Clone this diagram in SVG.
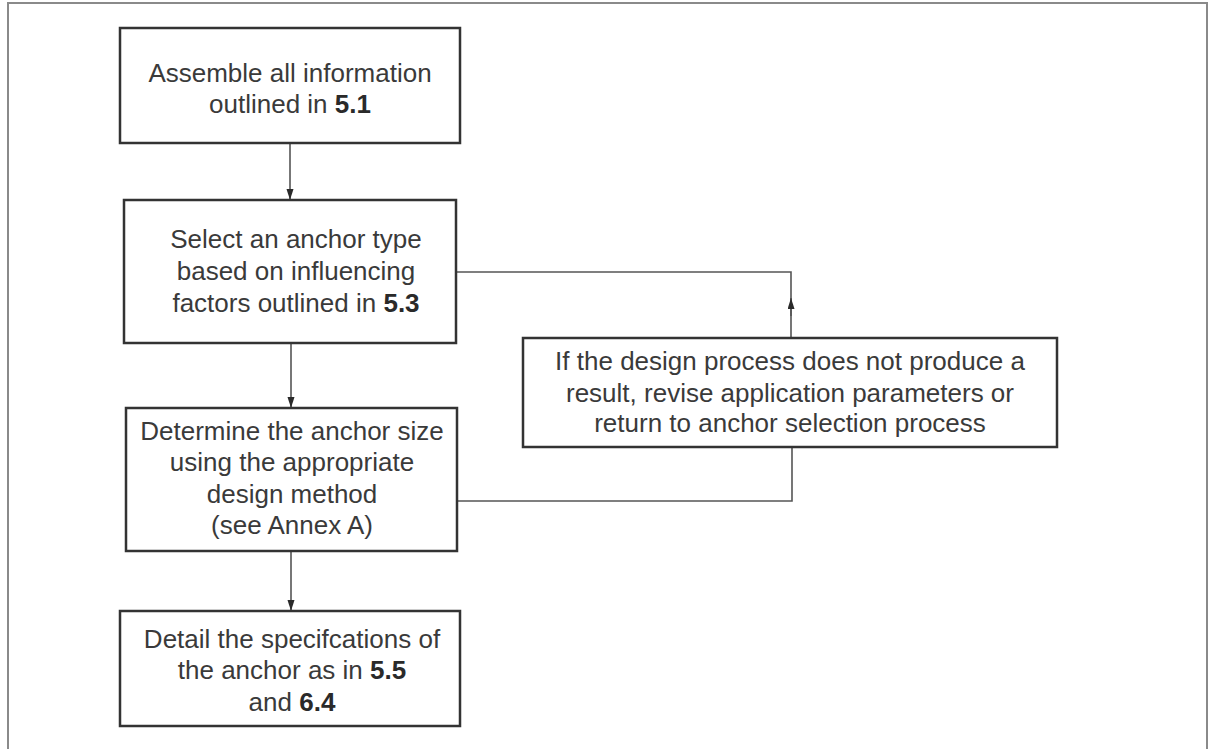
<svg xmlns="http://www.w3.org/2000/svg" width="1211" height="749" viewBox="0 0 1211 749">
  <style>
    .box { fill: #ffffff; stroke: #333333; stroke-width: 2.5; }
    .t { font-family: "Liberation Sans", Arial, sans-serif; font-size: 26px; fill: #3a3a3a; text-anchor: middle; }
    .b { font-weight: bold; fill: #2a2a2a; }
    .conn { fill: none; stroke: #555555; stroke-width: 1.6; }
  </style>
  <defs>
    <marker id="arrow" markerWidth="12" markerHeight="10" refX="11" refY="3.5" orient="auto" markerUnits="userSpaceOnUse">
      <path d="M0,0 L11,3.5 L0,7 Z" fill="#2a2a2a"/>
    </marker>
  </defs>
  <rect x="0" y="0" width="1211" height="749" fill="#ffffff"/>
  <rect x="8" y="3" width="1199" height="770" fill="none" stroke="#8a8a8a" stroke-width="2"/>

  <g id="connectors">
    <path class="conn" d="M290,143 L290,200" marker-end="url(#arrow)"/>
    <path class="conn" d="M291,343 L291,408" marker-end="url(#arrow)"/>
    <path class="conn" d="M291,551 L291,611" marker-end="url(#arrow)"/>
    <path class="conn" d="M791,338 L791,272 L457,272"/>
    <path class="conn" d="M791,316 L791,298" marker-end="url(#arrow)"/>
    <path class="conn" d="M457,501 L792,501 L792,447"/>
  </g>

  <g id="node1">
    <rect class="box" x="120" y="28" width="340" height="115"/>
    <text class="t" x="290" y="82">Assemble all information</text>
    <text class="t" x="290" y="113">outlined in <tspan class="b">5.1</tspan></text>
  </g>

  <g id="node2">
    <rect class="box" x="124" y="200" width="332" height="143"/>
    <text class="t" x="296" y="248">Select an anchor type</text>
    <text class="t" x="296" y="280">based on influencing</text>
    <text class="t" x="296" y="312">factors outlined in <tspan class="b">5.3</tspan></text>
  </g>

  <g id="node3">
    <rect class="box" x="126" y="408" width="331" height="143"/>
    <text class="t" x="292" y="440">Determine the anchor size</text>
    <text class="t" x="292" y="471">using the appropriate</text>
    <text class="t" x="292" y="503">design method</text>
    <text class="t" x="292" y="534">(see Annex A)</text>
  </g>

  <g id="node4">
    <rect class="box" x="120" y="611" width="340" height="115"/>
    <text class="t" x="292" y="648">Detail the specifcations of</text>
    <text class="t" x="292" y="679">the anchor as in <tspan class="b">5.5</tspan></text>
    <text class="t" x="292" y="711">and <tspan class="b">6.4</tspan></text>
  </g>

  <g id="node5">
    <rect class="box" x="523" y="338" width="534" height="109"/>
    <text class="t" x="790" y="370">If the design process does not produce a</text>
    <text class="t" x="790" y="402">result, revise application parameters or</text>
    <text class="t" x="790" y="432">return to anchor selection process</text>
  </g>
</svg>
